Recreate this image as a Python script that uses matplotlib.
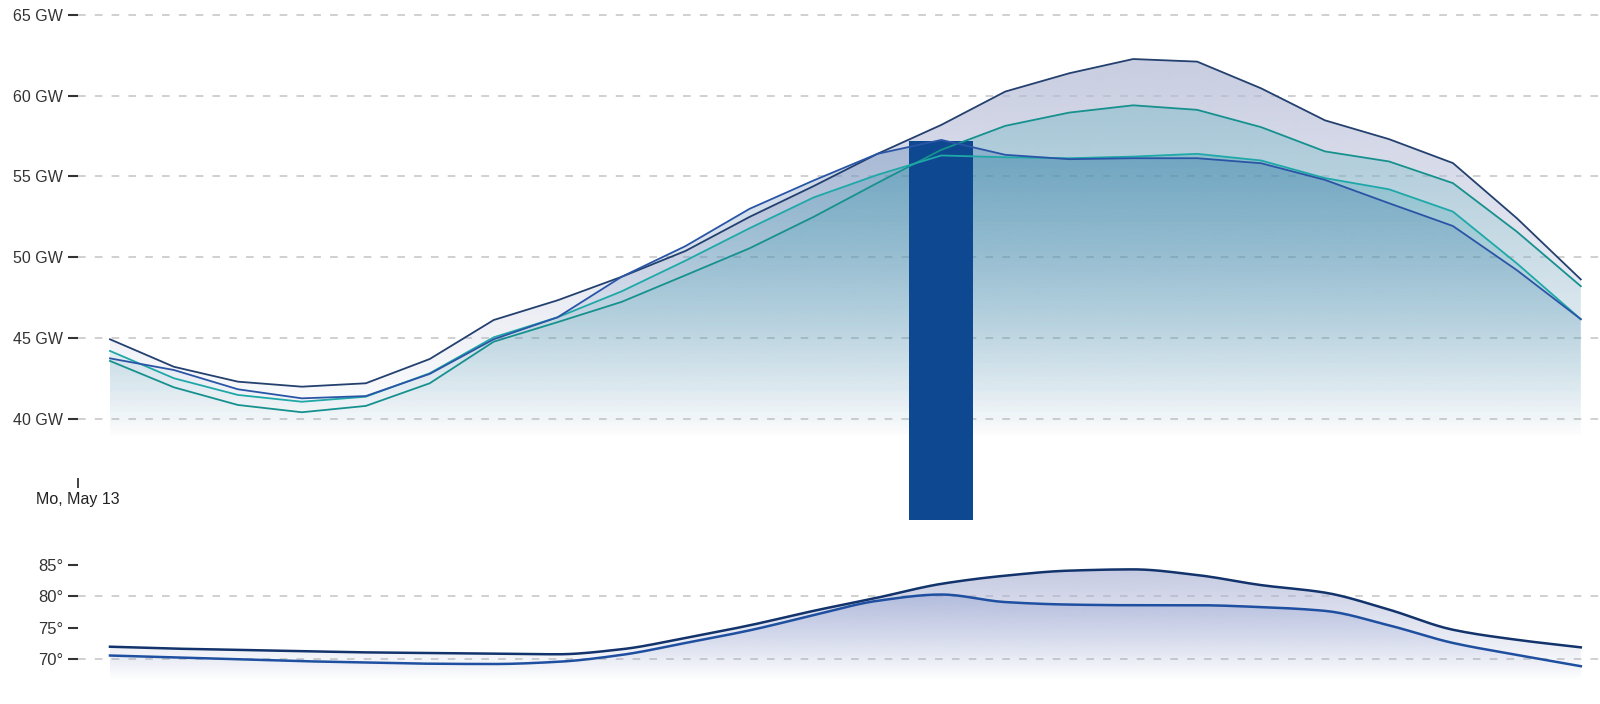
import numpy as np
import matplotlib
matplotlib.use('Agg')
import matplotlib.pyplot as plt

plt.rcParams['font.family'] = ['Liberation Sans', 'DejaVu Sans']

# Horas (centro de cada hora) del lunes 13 de mayo
hours = [h + 0.5 for h in range(24)]

# Demanda eléctrica en GW
power_peak = [44.94, 43.24, 42.32, 42.01, 42.22, 43.72, 46.13, 47.35, 48.8, 50.4, 52.5, 54.4,
              56.4, 58.19, 60.25, 61.38, 62.26, 62.1, 60.45, 58.47, 57.31, 55.83, 52.42, 48.64]
power_actual = [43.76, 43.04, 41.85, 41.29, 41.43, 42.8, 44.94, 46.3, 48.8, 50.7, 53.0, 54.75,
                56.4, 57.26, 56.34, 56.07, 56.13, 56.13, 55.82, 54.79, 53.35, 51.94, 49.21, 46.18]
power_fc_a = [44.22, 42.53, 41.5, 41.08, 41.39, 42.84, 45.06, 46.3, 47.9, 49.8, 51.8, 53.7,
              55.1, 56.3, 56.19, 56.13, 56.23, 56.4, 55.99, 54.9, 54.21, 52.83, 49.63, 46.18]
power_fc_b = [43.6, 41.97, 40.88, 40.43, 40.82, 42.22, 44.79, 46.0, 47.25, 48.9, 50.56, 52.5,
              54.6, 56.65, 58.13, 58.95, 59.4, 59.12, 58.05, 56.55, 55.93, 54.59, 51.59, 48.22]

# Barra de la hora actual
bar_hour = [13.5]
bar_low = [33.8]
bar_high = [57.2]

# Temperatura (°F)
temp_high = [72.0, 71.7, 71.5, 71.3, 71.1, 71.0, 70.9, 70.8, 71.6, 73.4, 75.4, 77.7,
             79.8, 82.0, 83.3, 84.1, 84.3, 83.4, 81.8, 80.6, 77.9, 74.7, 73.1, 71.9]
temp_low = [70.6, 70.3, 70.0, 69.7, 69.5, 69.3, 69.25, 69.6, 70.7, 72.6, 74.6, 77.0,
            79.3, 80.3, 79.1, 78.7, 78.6, 78.6, 78.3, 77.7, 75.4, 72.6, 70.7, 68.9]

power_ticks = [40, 45, 50, 55, 60, 65]
power_labels = ['%d GW' % v for v in power_ticks]
temp_ticks = [70, 75, 80, 85]
temp_labels = ['%d°' % v for v in temp_ticks]
temp_grid = [70, 80]
x_label = 'Mo, May 13'


def monotone(x, y, n=16):
    # curva suave monótona (Fritsch-Carlson) para dibujar la línea
    x = np.asarray(x, float)
    y = np.asarray(y, float)
    h = np.diff(x)
    d = np.diff(y) / h
    m = np.zeros_like(y)
    m[0], m[-1] = d[0], d[-1]
    for i in range(1, len(y) - 1):
        if d[i - 1] * d[i] > 0:
            m[i] = 3 * (h[i - 1] + h[i]) / ((2 * h[i] + h[i - 1]) / d[i - 1] + (h[i] + 2 * h[i - 1]) / d[i])
    xs, ys = [], []
    for i in range(len(h)):
        t = np.linspace(0, 1, n, endpoint=False)
        h00 = 2 * t**3 - 3 * t**2 + 1
        h10 = t**3 - 2 * t**2 + t
        h01 = -2 * t**3 + 3 * t**2
        h11 = t**3 - t**2
        xs.append(x[i] + t * h[i])
        ys.append(h00 * y[i] + h10 * h[i] * m[i] + h01 * y[i + 1] + h11 * h[i] * m[i + 1])
    xs.append([x[-1]])
    ys.append([y[-1]])
    return np.concatenate(xs), np.concatenate(ys)


def gradient_area(ax, x, y, base, top, rgb, amax, z):
    poly = ax.fill_between(x, y, base, facecolor='none', edgecolor='none')
    path = poly.get_paths()[0]
    n = 256
    img = np.zeros((n, 1, 4))
    img[..., 0] = rgb[0] / 255
    img[..., 1] = rgb[1] / 255
    img[..., 2] = rgb[2] / 255
    img[:, 0, 3] = amax * np.linspace(1, 0, n)
    im = ax.imshow(img, extent=[min(x), max(x), base, top], aspect='auto',
                   origin='upper', zorder=z, interpolation='bilinear')
    im.set_clip_path(path, transform=ax.transData)


fig = plt.figure(figsize=(16, 7.04), dpi=100)
ax1 = fig.add_axes([0.04875, 0.32102, 0.95125, 0.6696])
ax2 = fig.add_axes([0.04875, 0.03224, 0.95125, 0.1831])

# ---- panel superior: demanda ----
base_p = 38.8
top_p = 62.5
gradient_area(ax1, hours, power_peak, base_p, top_p, (180, 187, 214), 0.74, 2)
gradient_area(ax1, hours, power_fc_b, base_p, top_p, (40, 160, 170), 0.28, 2.1)
gradient_area(ax1, hours, power_fc_a, base_p, top_p, (30, 150, 165), 0.36, 2.2)
gradient_area(ax1, hours, power_actual, base_p, top_p, (40, 95, 160), 0.34, 2.3)

ax1.bar(bar_hour, np.array(bar_high) - np.array(bar_low), bottom=bar_low, width=1.0,
        color='#0e4890', zorder=2.6, clip_on=False)

ax1.plot(hours, power_peak, color='#23406f', lw=1.3, zorder=3)
ax1.plot(hours, power_fc_b, color='#16918e', lw=1.3, zorder=3)
ax1.plot(hours, power_fc_a, color='#1fa8a8', lw=1.3, zorder=3)
ax1.plot(hours, power_actual, color='#2a55a6', lw=1.3, zorder=3)

for v in power_ticks:
    ax1.axhline(v, color='#c4c4c4', lw=1.1, ls=(0, (5, 6)), zorder=1)

ax1.set_xlim(0, 23.8)
ax1.set_ylim(36.366, 65.5)
ax1.set_yticks(power_ticks)
ax1.set_yticklabels(power_labels)
ax1.set_xticks([0])
ax1.set_xticklabels([x_label])

# ---- panel inferior: temperatura ----
base_t = 66.7
top_t = 85.0
xs, yh = monotone(hours, temp_high)
_, yl = monotone(hours, temp_low)
gradient_area(ax2, xs, yh, base_t, top_t, (170, 178, 212), 0.72, 2)
gradient_area(ax2, xs, yl, base_t, top_t, (110, 132, 196), 0.42, 2.1)
ax2.plot(xs, yh, color='#12336b', lw=1.8, zorder=3)
ax2.plot(xs, yl, color='#1f4fa0', lw=1.8, zorder=3)

for v in temp_grid:
    ax2.axhline(v, color='#c4c4c4', lw=1.1, ls=(0, (5, 6)), zorder=1)

ax2.set_xlim(0, 23.8)
ax2.set_ylim(66.5, 87)
ax2.set_yticks(temp_ticks)
ax2.set_yticklabels(temp_labels)
ax2.set_xticks([])

for ax in (ax1, ax2):
    for s in ax.spines.values():
        s.set_visible(False)
    ax.set_facecolor('none')
    ax.tick_params(axis='y', length=7.2, width=1.5, color='#333333', pad=3.6,
                   labelsize=11.5, labelcolor='#333333')
ax2.tick_params(axis='y', labelsize=12)
ax1.tick_params(axis='x', length=7.2, width=1.2, color='#222222', pad=3,
                labelsize=11.5, labelcolor='#222222')

fig.savefig('out.png', dpi=100, facecolor='white')
